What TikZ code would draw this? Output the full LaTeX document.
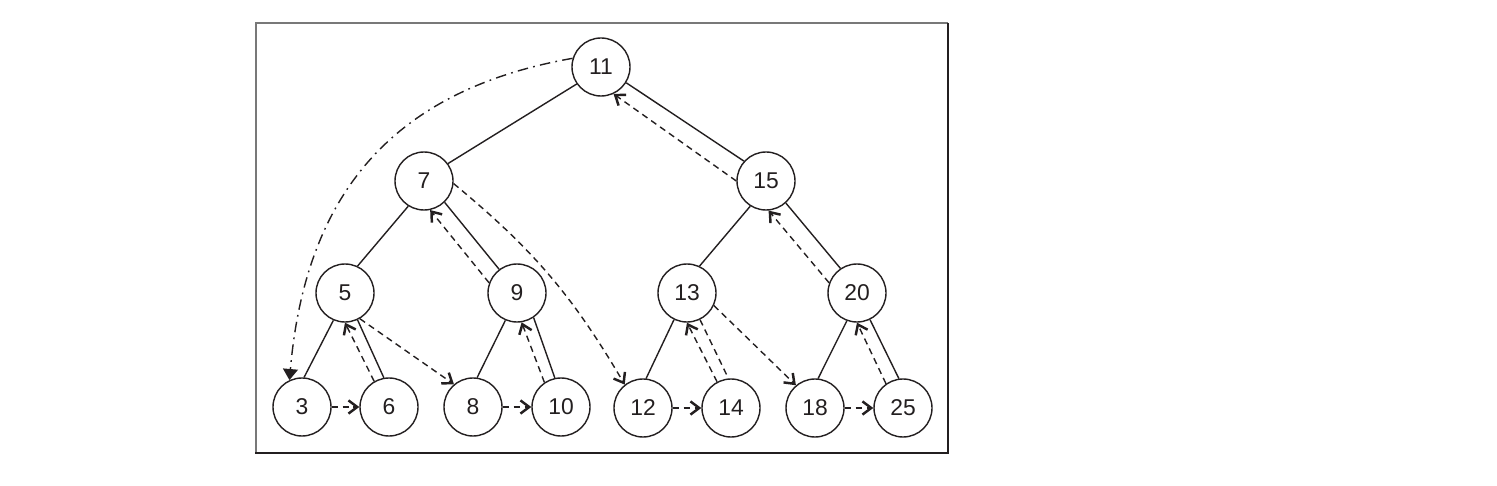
\documentclass[tikz,border=0pt]{standalone}
\usepackage{fontspec}
\setmainfont{Liberation Sans}
\usepackage{tikz}
\usetikzlibrary{arrows.meta}
\definecolor{framegray}{RGB}{120,120,120}
\definecolor{inkdark}{RGB}{35,31,32}

\begin{document}
\begin{tikzpicture}[x=0.2mm, y=-0.2mm, line width=0.8pt, color=inkdark,
    vertex/.style={circle, draw, minimum size=11.6mm, inner sep=0pt, font=\fontsize{13}{15}\selectfont},
    edge/.style={draw},
    thread/.style={dash pattern=on 3.6pt off 2.6pt, -{Straight Barb[length=5pt, width=7.5pt, line width=1.4pt]}},
    jump/.style={dash pattern=on 6pt off 3pt on 1pt off 3pt, -{Triangle[length=6.3pt, width=8.5pt]}}]
            \useasboundingbox (0,0) rectangle (1497,486);
            \draw[color=framegray, line width=0.9pt] (256,452) -- (256,23) -- (948,23);
            \draw[line width=1.5pt]                  (948,23) -- (948,453) -- (255,453);

            \node[vertex] (n11) at (601, 67) {11};
            \node[vertex] (n7)  at (424,181) {7};
            \node[vertex] (n15) at (766,181) {15};
            \node[vertex] (n5)  at (345,293) {5};
            \node[vertex] (n9)  at (517,293) {9};
            \node[vertex] (n13) at (687,293) {13};
            \node[vertex] (n20) at (857,293) {20};
            \node[vertex] (n3)  at (302,407) {3};
            \node[vertex] (n6)  at (389,407) {6};
            \node[vertex] (n8)  at (473,407) {8};
            \node[vertex] (n10) at (561,407) {10};
            \node[vertex] (n12) at (643,408) {12};
            \node[vertex] (n14) at (731,408) {14};
            \node[vertex] (n18) at (815,408) {18};
            \node[vertex] (n25) at (903,408) {25};

            \draw[edge] (n11.-145) -- (n7.36);   \draw[edge] (n11.-32) -- (n15.138);
            \draw[edge] (n7.-122)  -- (n5.65);   \draw[edge] (n7.-46)  -- (n9.127);
            \draw[edge] (n15.-122) -- (n13.65);  \draw[edge] (n15.-48) -- (n20.124);
            \draw[edge] (n5.-113)  -- (n3.86);   \draw[edge] (n5.-65)  -- (n6.100);
            \draw[edge] (n9.-113)  -- (n8.82);   \draw[edge] (n9.-56)  -- (n10.102);
            \draw[edge] (n13.-116) -- (n12.84);  \draw[edge, dash pattern=on 3.6pt off 2.6pt] (n13.-64) -- (n14.95);
            \draw[edge] (n20.-110) -- (n18.84);  \draw[edge] (n20.-64) -- (n25.98);

            \draw[thread] (n3.east)  -- (n6.west);
            \draw[thread] (n6.120)   -- (n5.-90);
            \draw[thread] (n5.-60)   -- (n8.130);
            \draw[thread] (n8.east)  -- (n10.west);
            \draw[thread] (n10.124)  -- (n9.-81);
            \draw[thread] (n9.160)   -- (n7.-78);
            \draw[thread] (n7.-5)    to[bend left=10] (n12.128);
            \draw[thread] (n12.east) -- (n14.west);
            \draw[thread] (n14.118)  -- (n13.-90);
            \draw[thread] (n13.-25)  -- (n18.130);
            \draw[thread] (n18.east) -- (n25.west);
            \draw[thread] (n25.125)  -- (n20.-90);
            \draw[thread] (n20.160)  -- (n15.-85);
            \draw[thread] (n15.180)  -- (n11.-65);
            \draw[jump]   (n11.163)  to[out=190, in=85, looseness=1.1] (n3.115);
        \end{tikzpicture}
\end{document}
